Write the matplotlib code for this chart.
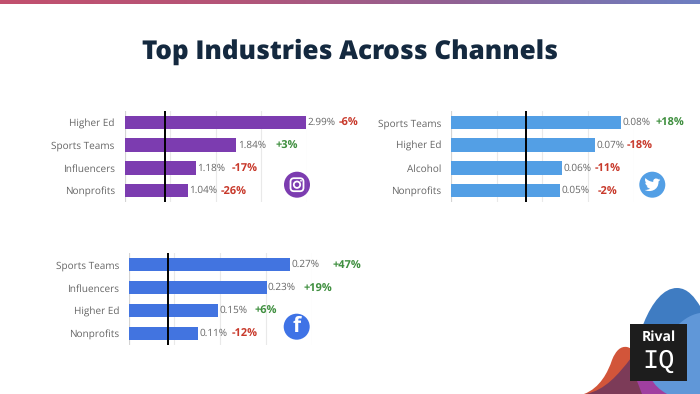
import numpy as np
import matplotlib
matplotlib.use("Agg")
import matplotlib.pyplot as plt
from matplotlib.path import Path
from matplotlib.patches import PathPatch, Circle, FancyBboxPatch, Rectangle
from matplotlib.colors import LinearSegmentedColormap

plt.rcParams['font.family'] = ['Open Sans', 'DejaVu Sans']
plt.rcParams['text.hinting'] = 'no_hinting'
plt.rcParams['text.hinting_factor'] = 1

W, H = 700, 394

# ---- data ----
ig_categories = ["Higher Ed", "Sports Teams", "Influencers", "Nonprofits"]
ig_values = [2.99, 1.84, 1.18, 1.04]
ig_changes = ["-6%", "+3%", "-17%", "-26%"]
ig_benchmark = 0.67
ig_max = 3.0

tw_categories = ["Sports Teams", "Higher Ed", "Alcohol", "Nonprofits"]
tw_values = [0.0847, 0.0718, 0.0555, 0.0545]
tw_labels = ["0.08%", "0.07%", "0.06%", "0.05%"]
tw_changes = ["+18%", "-18%", "-11%", "-2%"]
tw_benchmark = 0.0374
tw_max = 0.091

fb_categories = ["Sports Teams", "Influencers", "Higher Ed", "Nonprofits"]
fb_values = [0.265, 0.226, 0.147, 0.113]
fb_labels = ["0.27%", "0.23%", "0.15%", "0.11%"]
fb_changes = ["+47%", "+19%", "+6%", "-12%"]
fb_benchmark = 0.064
fb_max = 0.30

# ---- layout (pixels) ----
ig_box = (124.5, 111, 182.2, 91)
tw_box = (451.3, 111, 182.2, 91)
fb_box = (128.7, 253.3, 183, 91.5)
ig_change_x = [339, 276, 232, 220.7]
tw_change_x = [656, 626.7, 595, 597.7]
fb_change_x = [333, 303.7, 255, 232]

GREY = "#666666"
GREEN = "#3f8f3f"
RED = "#c8392b"

fig = plt.figure(figsize=(7, 3.94), dpi=100, facecolor="white")

# decoration layer in pixel coordinates
bg = fig.add_axes([0, 0, 1, 1], zorder=0)
bg.axis("off")

cmap = LinearSegmentedColormap.from_list("top", ["#c2506e", "#b45578", "#8f6295", "#6d7fc2"])
bg.imshow(np.linspace(0, 1, 256).reshape(1, -1), extent=(0, W, 3.6, 0), aspect="auto", cmap=cmap, zorder=1)
bg.set_xlim(0, W)
bg.set_ylim(H, 0)


def blob(start, curves, color, z=2):
    verts = [start]
    codes = [Path.MOVETO]
    for c in curves:
        verts.extend(c)
        codes.extend([Path.CURVE4] * 3)
    verts.append(start)
    codes.append(Path.CLOSEPOLY)
    bg.add_patch(PathPatch(Path(verts, codes), fc=color, ec="none", zorder=z))


# red hill
blob((584, 394), [[(600, 388), (608, 372), (612, 360)],
                  [(616, 350), (621, 346), (627, 347)],
                  [(640, 350), (650, 375), (665, 394)]], "#d2553a", 2)
# dark blue hill
blob((628, 394), [[(632, 345), (650, 288), (677, 288)],
                  [(688, 288), (695, 298), (700, 306)],
                  [(700, 340), (700, 370), (700, 394)]], "#3f7cc2", 3)
# maroon overlap
blob((586, 394), [[(605, 390), (618, 375), (631, 358)],
                  [(637, 368), (642, 382), (650, 394)]], "#7c3b58", 4)
# purple
blob((637, 381), [[(645, 381), (652, 381), (658, 381)],
                  [(662, 386), (666, 390), (672, 394)],
                  [(664, 394), (655, 394), (642, 394)]], "#a03fa0", 4)
# light blue hill
blob((700, 313), [[(680, 316), (660, 340), (651, 378)],
                  [(654, 385), (660, 390), (667, 394)],
                  [(680, 394), (690, 394), (700, 394)]], "#6097d8", 5)

# logo box
bg.add_patch(Rectangle((630, 324.3), 57, 56.7, fc="#1d1d1d", ec="none", zorder=6))
bg.text(658.5, 337.5, "Rival", color="white", fontsize=10, fontweight="bold", ha="center", va="center", zorder=7)
bg.text(658.5, 360.5, "IQ", color="white", fontsize=19.5, family=["Liberation Mono"], ha="center", va="center", zorder=7)

# title
bg.text(350, 52, "Top Industries Across Channels", fontsize=18.8, fontweight="extra bold",
        color="#14293f", ha="center", va="center", zorder=7)


def panel(box, cats, vals, labels, changes, change_x, bench, xmax, color):
    x, y, w, h = box
    ax = fig.add_axes([x / W, 1 - (y + h) / H, w / W, h / H], zorder=2)
    ax.patch.set_alpha(0)
    pos = np.arange(len(cats))
    bars = ax.barh(pos, vals, height=0.585, color=color, edgecolor="none", zorder=2)
    ax.set_ylim(len(cats) - 0.5, -0.5)
    ax.set_xlim(0, xmax)
    ax.set_xticks(np.linspace(0, xmax, 5))
    ax.set_yticks(pos, cats)
    ax.tick_params(axis="y", length=0, pad=7, labelsize=7.5, labelcolor=GREY)
    ax.tick_params(axis="x", length=0, labelbottom=False)
    ax.grid(axis="x", color="#e9e9e9", lw=0.8, zorder=0)
    ax.set_axisbelow(True)
    for s in ax.spines.values():
        s.set_visible(False)
    ax.axvline(0, color="#d4d4d4", lw=0.8, zorder=1)
    ax.axvline(bench, color="black", lw=1.4, zorder=3)
    ax.bar_label(bars, labels=labels, padding=1, fontsize=7.4, color=GREY, clip_on=False)
    for i, (c, cx) in enumerate(zip(changes, change_x)):
        yy = y + h * (i + 0.5) / len(cats) + 1
        bg.text(cx, yy, c, fontsize=8.2, fontweight="bold", color=GREEN if c.startswith("+") else RED,
                ha="left", va="center", zorder=7)
    return ax


panel(ig_box, ig_categories, ig_values, [f"{v:.2f}%" for v in ig_values], ig_changes, ig_change_x,
      ig_benchmark, ig_max, "#7c3cb0")
panel(tw_box, tw_categories, tw_values, tw_labels, tw_changes, tw_change_x,
      tw_benchmark, tw_max, "#539fe5")
panel(fb_box, fb_categories, fb_values, fb_labels, fb_changes, fb_change_x,
      fb_benchmark, fb_max, "#4274e0")

# icons
bg.add_patch(Circle((297, 184.7), 13, fc="#7c3cb0", ec="none", zorder=7))
bg.add_patch(FancyBboxPatch((290.5, 178.2), 13, 13, boxstyle="round,pad=0,rounding_size=3.5",
                            fc="none", ec="white", lw=1.3, zorder=8))
bg.add_patch(Circle((297, 184.7), 3.2, fc="none", ec="white", lw=1.3, zorder=8))
bg.add_patch(Circle((301, 180.8), 0.9, fc="white", ec="none", zorder=8))

bg.add_patch(Circle((652.3, 184.7), 13, fc="#539fe5", ec="none", zorder=7))
ox, oy = 652.3, 184.7
bird = [(-7.5, 5.2), (-3, 8), (6.5, 6), (6.2, -3.2), (7.4, -4), (8, -5), (8, -5),
        (7, -4.6), (6.5, -4.5), (6.5, -4.5), (7.2, -5), (7.7, -6), (7.7, -6),
        (6.8, -5.5), (6, -5.3), (6, -5.3), (4, -7.4), (0.2, -5.8), (1, -2.8),
        (-2, -3), (-5, -4.5), (-6.8, -6.6), (-7.8, -5), (-7.2, -2.8), (-5.8, -1.9),
        (-6.4, -1.9), (-7, -2.2), (-7, -2.2), (-7, -0.3), (-5.8, 1), (-4.4, 1.4),
        (-5, 1.6), (-5.6, 1.5), (-5.6, 1.5), (-5, 3), (-3.6, 3.7), (-2.2, 3.8),
        (-3.6, 4.9), (-5.6, 5.4), (-7.5, 5.2)]
codes = [Path.MOVETO] + [Path.CURVE4] * (len(bird) - 1)
bg.add_patch(PathPatch(Path([(ox + a, oy + b) for a, b in bird], codes), fc="white", ec="none", zorder=8))

bg.add_patch(Circle((296.7, 326.7), 13, fc="#3f73e6", ec="none", zorder=7))
bg.text(296.7, 327, "f", color="white", fontsize=15, fontweight="bold", ha="center", va="center", zorder=8)

fig.savefig("out.png", dpi=100, facecolor="white")
